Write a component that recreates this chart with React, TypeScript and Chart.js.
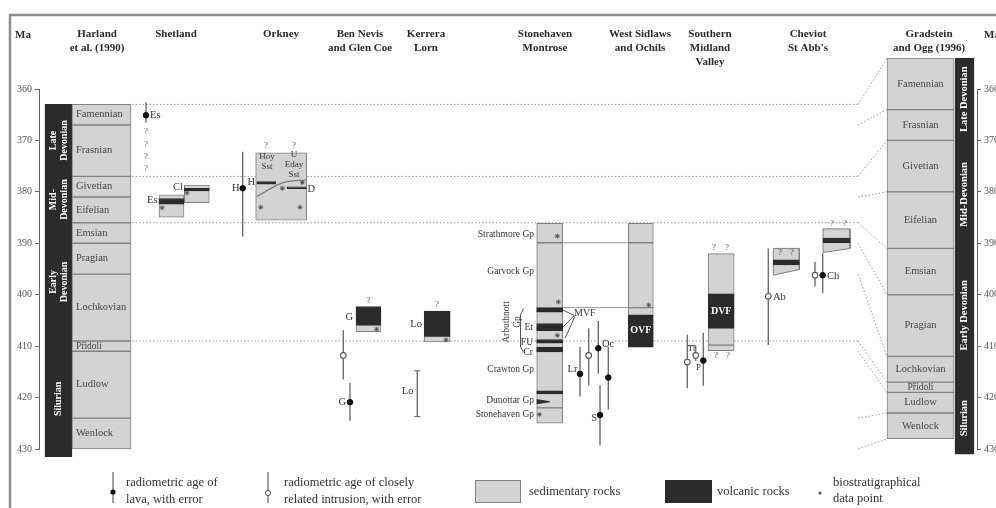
import React, { useEffect, useRef } from "react";
import { Chart, registerables } from "chart.js";

Chart.register(...registerables);

// ---------------- DATA ----------------
const headerLabels: string[][] = [
  ["Harland", "et al. (1990)"],
  ["Shetland"],
  ["Orkney"],
  ["Ben Nevis", "and Glen Coe"],
  ["Kerrera", "Lorn"],
  ["Stonehaven", "Montrose"],
  ["West Sidlaws", "and Ochils"],
  ["Southern", "Midland", "Valley"],
  ["Cheviot", "St Abb's"],
  ["Gradstein", "and Ogg (1996)"],
];
const maTicks = [360, 370, 380, 390, 400, 410, 420, 430];

const stageNames = ["Famennian", "Frasnian", "Givetian", "Eifelian", "Emsian", "Pragian", "Lochkovian", "Přidoli", "Ludlow", "Wenlock"];
const harlandBoundaries = [363, 367, 377, 381, 386, 390, 396, 409, 411, 424, 430];
const harlandEpochNames = ["Late\nDevonian", "Mid-\nDevonian", "Early\nDevonian", "Silurian"];
const harlandEpochRanges = [[363, 377], [377, 386], [386, 409], [409, 431.5]];
const goBoundaries = [354, 364, 370, 380, 391, 400, 412, 417, 419, 423, 428];
const goEpochNames = ["Late Devonian", "Mid-Devonian", "Early Devonian", "Silurian"];
const goEpochRanges = [[354, 370], [370, 391], [391, 417], [417, 431]];
const correlationAges = [363, 377, 386, 409];

// rock units: [kind, top Ma, base Ma]
type Unit = [string, number, number];
const shetlandEsUnits: Unit[] = [["sed", 380.6, 384.9], ["vol", 381.3, 382.4]];
const shetlandClUnits: Unit[] = [["sed", 378.7, 382.1], ["vol", 379.3, 379.8]];
const orkneyUnits: Unit[] = [["sed", 372.4, 385.5]];
const orkneyHoyLava: Unit[] = [["vol", 378.0, 378.5]];
const orkneyDeerness: Unit[] = [["vol", 379.0, 379.4]];
const benNevisUnits: Unit[] = [["vol", 402.3, 405.9], ["sed", 405.9, 407.2]];
const kerreraUnits: Unit[] = [["vol", 403.2, 408.1], ["sed", 408.1, 409.2]];
const stonehavenUnits: Unit[] = [
  ["sed", 386.1, 389.9], ["sed", 389.9, 422.0], ["sed", 422.0, 425.0],
  ["vol", 402.5, 403.4], ["vol", 405.6, 407.0], ["vol", 408.7, 409.4], ["vol", 410.2, 411.1], ["vol", 418.7, 419.3],
];
const sidlawsUnits: Unit[] = [["sed", 386.1, 389.9], ["sed", 389.9, 402.5], ["sed", 402.5, 404.0], ["vol", 404.0, 410.2]];
const smvUnits: Unit[] = [["sed", 392.0, 399.9], ["vol", 399.9, 406.5], ["sed", 406.5, 409.8], ["sed", 409.8, 410.9]];
const abBand: Unit[] = [["vol", 393.2, 394.2]];
const chBand: Unit[] = [["vol", 389.0, 389.9]];
// sloping-based boxes: [top, base left, base right]
const abBoxAges = [391.0, 396.2, 395.1];
const chBoxAges = [387.2, 391.8, 391.0];
const dunottarWedgeAges = [420.4, 420.8, 421.2];
const orkneyContactAges = [380.9, 378.7, 378.0, 377.7];
const groupLinkAges = [389.9, 402.5];

// radiometric ages
const lavaNames = ["Es", "H", "G", "Lr", "Oc", "", "S", "P", "Ch"];
const lavaRanges = [[362.6, 366.5], [372.2, 388.7], [417.1, 424.5], [410.1, 419.8], [405.1, 415.3], [410.1, 422.3], [417.6, 429.3], [407.4, 417.7], [392.0, 399.7]];
const lavaAges = [365.1, 379.3, 420.9, 415.4, 410.4, 416.1, 423.4, 412.8, 396.2];
const intrusionRanges = [[406.9, 416.5], [406.5, 417.6], [407.8, 418.2], [409.9, 412.9], [391.0, 409.8], [393.6, 398.4]];
const intrusionAges = [411.8, 411.8, 413.1, 411.8, 400.3, 396.2];
const rangeOnlyRanges = [[414.8, 423.7]];
const biostratAges = [383.1, 380.2, 379.3, 383.0, 383.0, 378.2, 406.7, 408.8, 388.6, 401.4, 407.9, 423.3, 402.0];

// ---------------- LAYOUT / STYLE ----------------
const SERIF = "'Liberation Serif', 'Times New Roman', serif";
const SED = "#d3d3d3";
const VOL = "#2b2b2b";
const EDGE = "#808080";
const INK = "#333333";
const LINE = "#6e6e6e";

const headerX = [97, 176, 281, 360, 426, 545, 640, 710, 808, 929];
const COL = {
  harlandEpoch: { x: 58.5, w: 27 }, harlandStage: { x: 101.5, w: 59 },
  shetEs: { x: 171.5, w: 25 }, shetCl: { x: 196.8, w: 25 },
  orkney: { x: 281.2, w: 51 }, orkH: { x: 266.3, w: 19 }, orkD: { x: 296.5, w: 19 },
  benNevis: { x: 368.5, w: 25 }, kerrera: { x: 437.2, w: 26 },
  stonehaven: { x: 549.7, w: 26 }, sidlaws: { x: 640.8, w: 25 }, smv: { x: 721.2, w: 26 },
  ab: { x: 786.3, w: 26 }, ch: { x: 836.5, w: 27 },
  goStage: { x: 920.5, w: 67 }, goEpoch: { x: 964.5, w: 19 },
};
const LAVA_X = [146, 242.7, 350, 580, 598.3, 608.3, 600, 703.3, 822.7];
const INTR_X = [343.3, 588.7, 687.3, 695.7, 768.3, 815];
const RANGE_X = [417.3];
const BIO_X = [162, 187, 282.3, 260.7, 300, 302.3, 376.7, 446, 557.3, 558.3, 557.3, 539.3, 648.7];
const CORR_X = [132, 858];
const FAN_X = [858, 887];
const ORK_CONTACT_X = [257, 277, 287, 306];
const LINK_X = [562.7, 628.3];

// ---------------- DATASETS ----------------
const rect = (col: any, ranges: number[][], fill: string, edge: string, order: number) => ({
  type: "bar",
  data: ranges.map((r) => ({ x: col.x, y: [r[0], r[1]] })),
  barThickness: col.w,
  grouped: false,
  backgroundColor: fill,
  borderColor: edge,
  borderWidth: 1,
  borderSkipped: false,
  order,
  clip: false,
});
const units = (col: any, u: Unit[]) => [
  rect(col, u.filter((k) => k[0] === "sed").map((k) => [k[1], k[2]]), SED, EDGE, 20),
  rect(col, u.filter((k) => k[0] === "vol").map((k) => [k[1], k[2]]), VOL, VOL, 15),
];
const poly = (pts: number[][], fill: string, edge: string, order: number) => ({
  type: "line",
  data: pts.map(([x, y]) => ({ x, y })),
  fill: "shape",
  backgroundColor: fill,
  borderColor: edge,
  borderWidth: 1,
  pointRadius: 0,
  tension: 0,
  order,
  clip: false,
});
const seg = (pts: number[][], color: string, width: number, dash: number[], order = 8, tension = 0) => ({
  type: "line",
  data: pts.map(([x, y]) => ({ x, y })),
  borderColor: color,
  borderWidth: width,
  borderDash: dash,
  pointRadius: 0,
  fill: false,
  tension,
  order,
  clip: false,
});
const slopeBox = (col: any, a: number[]) => {
  const l = col.x - col.w / 2, r = col.x + col.w / 2;
  return [[l, a[0]], [r, a[0]], [r, a[2]], [l, a[1]], [l, a[0]]];
};

const harlandStageRanges = stageNames.map((_, i) => [harlandBoundaries[i], harlandBoundaries[i + 1]]);
const goStageRanges = stageNames.map((_, i) => [goBoundaries[i], goBoundaries[i + 1]]);

const datasets: any[] = [
  rect(COL.harlandStage, harlandStageRanges, SED, EDGE, 20),
  rect(COL.harlandEpoch, harlandEpochRanges, VOL, VOL, 20),
  rect(COL.goStage, goStageRanges, SED, EDGE, 20),
  rect(COL.goEpoch, goEpochRanges, VOL, VOL, 20),
  ...units(COL.shetEs, shetlandEsUnits),
  ...units(COL.shetCl, shetlandClUnits),
  ...units(COL.orkney, orkneyUnits),
  ...units(COL.orkH, orkneyHoyLava),
  ...units(COL.orkD, orkneyDeerness),
  ...units(COL.benNevis, benNevisUnits),
  ...units(COL.kerrera, kerreraUnits),
  ...units(COL.stonehaven, stonehavenUnits),
  ...units(COL.sidlaws, sidlawsUnits),
  ...units(COL.smv, smvUnits),
  poly(slopeBox(COL.ab, abBoxAges), SED, EDGE, 22),
  poly(slopeBox(COL.ch, chBoxAges), SED, EDGE, 22),
  ...units(COL.ab, abBand),
  ...units(COL.ch, chBand),
  poly(
    [
      [COL.stonehaven.x - COL.stonehaven.w / 2, dunottarWedgeAges[0]],
      [COL.stonehaven.x - COL.stonehaven.w / 2 + 13, dunottarWedgeAges[1]],
      [COL.stonehaven.x - COL.stonehaven.w / 2, dunottarWedgeAges[2]],
    ],
    VOL, VOL, 14
  ),
  // Orkney Hoy / Eday contact
  seg(ORK_CONTACT_X.map((x, i) => [x, orkneyContactAges[i]]), "#777", 1.3, [], 12, 0.4),
  // correlation dotted lines
  ...correlationAges.map((a) => seg([[CORR_X[0], a], [CORR_X[1], a]], "#9a9a9a", 1, [1.5, 2], 30)),
  ...harlandBoundaries.map((a, i) => seg([[FAN_X[0], a], [FAN_X[1], goBoundaries[i]]], "#9a9a9a", 1, [1.5, 2], 30)),
  // group boundary links Stonehaven -> Sidlaws
  ...groupLinkAges.map((a) => seg([[LINK_X[0], a], [LINK_X[1], a]], "#9a9a9a", 1, [], 30)),
  // MVF leaders
  seg([[574, 404.0], [563, 403.0]], "#555", 1, [], 6),
  seg([[574, 404.1], [563, 406.3]], "#555", 1, [], 6),
  seg([[575, 404.2], [565, 408.5]], "#555", 1, [], 6),
  // Arbuthnott bracket
  seg([[523.5, 402.7], [520.5, 403.9], [520.5, 410.1], [523.5, 411.2]], "#555", 1, [], 6),
  // SMV intrusion connector
  seg([[INTR_X[2], 409.9], [INTR_X[3], 409.9]], LINE, 1.2, [], 6),
  // error bars
  ...lavaRanges.map((r, i) => seg([[LAVA_X[i], r[0]], [LAVA_X[i], r[1]]], LINE, 1.4, [], 5)),
  ...intrusionRanges.map((r, i) => seg([[INTR_X[i], r[0]], [INTR_X[i], r[1]]], LINE, 1.4, [], 5)),
  ...rangeOnlyRanges.map((r, i) => seg([[RANGE_X[i], r[0]], [RANGE_X[i], r[1]]], LINE, 1.4, [], 5)),
  {
    type: "scatter",
    data: rangeOnlyRanges.flatMap((r, i) => [{ x: RANGE_X[i], y: r[0] }, { x: RANGE_X[i], y: r[1] }]),
    pointStyle: "line", pointRadius: 3, borderColor: LINE, borderWidth: 1.2, order: 4, clip: false,
  },
  {
    type: "scatter",
    data: lavaAges.map((a, i) => ({ x: LAVA_X[i], y: a })),
    pointRadius: 2.8, backgroundColor: "#111", borderColor: "#111", borderWidth: 1, order: 2, clip: false,
  },
  {
    type: "scatter",
    data: intrusionAges.map((a, i) => ({ x: INTR_X[i], y: a })),
    pointRadius: 2.8, backgroundColor: "#fff", borderColor: "#555", borderWidth: 1.1, order: 2, clip: false,
  },
  {
    type: "scatter",
    data: biostratAges.map((a, i) => ({ x: BIO_X[i], y: a })),
    pointStyle: "star", pointRadius: 2.4, backgroundColor: "#555", borderColor: "#555", borderWidth: 1, order: 1, clip: false,
  },
];

// ---------------- TEXT NOTES ----------------
type Note = { t: string; x: number; ma: number; align?: string; size?: number; color?: string; bold?: boolean; rot?: boolean };
const notes: Note[] = [];
stageNames.forEach((n, i) =>
  notes.push({ t: n, x: COL.harlandStage.x - COL.harlandStage.w / 2 + 4, ma: (harlandBoundaries[i] + harlandBoundaries[i + 1]) / 2, align: "left", size: i === 7 ? 9.5 : 10.5, color: "#444" })
);
stageNames.forEach((n, i) =>
  notes.push({ t: n, x: COL.goStage.x, ma: (goBoundaries[i] + goBoundaries[i + 1]) / 2, size: i === 7 ? 9.5 : 10.5, color: "#444" })
);
harlandEpochNames.forEach((n, i) =>
  notes.push({ t: n, x: COL.harlandEpoch.x, ma: (harlandEpochRanges[i][0] + harlandEpochRanges[i][1]) / 2, size: 10, color: "#fff", bold: true, rot: true })
);
goEpochNames.forEach((n, i) =>
  notes.push({ t: n, x: COL.goEpoch.x, ma: (goEpochRanges[i][0] + goEpochRanges[i][1]) / 2, size: 10.5, color: "#fff", bold: true, rot: true })
);
const q = (x: number, ma: number) => notes.push({ t: "?", x, ma, size: 9, color: "#555" });
[368.3, 370.9, 373.1, 375.4].forEach((m) => q(146, m));
q(266, 371.1); q(294, 371.1); q(368.3, 401.1); q(437, 402.0);
q(714, 390.8); q(727, 390.8); q(716, 411.9); q(728, 411.9);
q(780, 391.8); q(792, 391.8); q(832, 386.1); q(845, 386.1);
notes.push(
  { t: "Es", x: 150, ma: 365.1, align: "left" },
  { t: "Es", x: 157.5, ma: 381.6, align: "right" },
  { t: "Cl", x: 183, ma: 379.1, align: "right" },
  { t: "H", x: 239.5, ma: 379.3, align: "right" },
  { t: "H", x: 255, ma: 378.1, align: "right" },
  { t: "D", x: 307.5, ma: 379.4, align: "left" },
  { t: "Hoy\nSst", x: 267, ma: 374.2, size: 9 },
  { t: "U\nEday\nSst", x: 294, ma: 374.7, size: 9 },
  { t: "G", x: 353, ma: 404.3, align: "right" },
  { t: "G", x: 346, ma: 420.9, align: "right" },
  { t: "Lo", x: 422, ma: 405.7, align: "right" },
  { t: "Lo", x: 413.5, ma: 418.7, align: "right" },
  { t: "Strathmore Gp", x: 534, ma: 388.2, align: "right", size: 9.5 },
  { t: "Garvock Gp", x: 534, ma: 395.5, align: "right", size: 9.5 },
  { t: "Crawton Gp", x: 534, ma: 414.5, align: "right", size: 9.5 },
  { t: "Dunottar Gp", x: 534, ma: 420.5, align: "right", size: 9.5 },
  { t: "Stonehaven Gp", x: 534, ma: 423.3, align: "right", size: 9.5 },
  { t: "Et", x: 533, ma: 406.3, align: "right", size: 9.5 },
  { t: "FU", x: 533, ma: 409.3, align: "right", size: 9.5 },
  { t: "Cr", x: 533, ma: 411.2, align: "right", size: 9.5 },
  { t: "Arbuthnott\nGp", x: 512, ma: 405.3, size: 9.5, rot: true, color: "#444" },
  { t: "MVF", x: 574, ma: 403.7, align: "left", size: 10 },
  { t: "Lr", x: 577.5, ma: 414.5, align: "right" },
  { t: "Oc", x: 602, ma: 409.6, align: "left" },
  { t: "S", x: 597, ma: 424.0, align: "right" },
  { t: "OVF", x: COL.sidlaws.x, ma: 406.9, size: 10, bold: true, color: "#fff" },
  { t: "DVF", x: COL.smv.x, ma: 403.3, size: 10, bold: true, color: "#fff" },
  { t: "Tt", x: 691.5, ma: 410.6, size: 8.5 },
  { t: "P", x: 698.5, ma: 414.2, size: 9 },
  { t: "Ab", x: 773, ma: 400.4, align: "left" },
  { t: "Ch", x: 827, ma: 396.4, align: "left" }
);

const framePlugin = {
  id: "frame",
  beforeDraw(chart: any) {
    const { ctx } = chart;
    ctx.save();
    ctx.fillStyle = "#fff";
    ctx.fillRect(0, 0, chart.width, chart.height);
    ctx.strokeStyle = "#8c8c8c";
    ctx.lineWidth = 2.5;
    ctx.beginPath();
    ctx.moveTo(10, chart.height);
    ctx.lineTo(10, 15);
    ctx.lineTo(chart.width, 15);
    ctx.stroke();
    ctx.font = `bold 11px ${SERIF}`;
    ctx.fillStyle = "#2a2a2a";
    ctx.textBaseline = "middle";
    ctx.textAlign = "left";
    ctx.fillText("Ma", 15, 35);
    ctx.fillText("Ma", 984, 35);
    ctx.restore();
  },
};

const notesPlugin = {
  id: "notes",
  afterDatasetsDraw(chart: any) {
    const { ctx } = chart;
    const xs = chart.scales.x, ys = chart.scales.y;
    notes.forEach((n) => {
      const px = xs.getPixelForValue(n.x), py = ys.getPixelForValue(n.ma);
      const size = n.size ?? 10.5;
      ctx.save();
      ctx.font = `${n.bold ? "bold " : ""}${size}px ${SERIF}`;
      ctx.fillStyle = n.color ?? INK;
      ctx.textAlign = n.align ?? "center";
      ctx.textBaseline = "middle";
      const lines = n.t.split("\n");
      const lh = size * 1.1;
      if (n.rot) {
        ctx.translate(px, py);
        ctx.rotate(-Math.PI / 2);
        lines.forEach((l, i) => ctx.fillText(l, 0, (i - (lines.length - 1) / 2) * lh));
      } else {
        lines.forEach((l, i) => ctx.fillText(l, px, py + (i - (lines.length - 1) / 2) * lh));
      }
      ctx.restore();
    });
  },
};

const legendPlugin = {
  id: "geoLegend",
  afterDraw(chart: any) {
    const { ctx } = chart;
    ctx.save();
    const vline = (x: number) => {
      ctx.strokeStyle = LINE;
      ctx.lineWidth = 1.3;
      ctx.beginPath();
      ctx.moveTo(x, 472);
      ctx.lineTo(x, 503);
      ctx.stroke();
    };
    vline(113);
    ctx.fillStyle = "#111";
    ctx.beginPath();
    ctx.arc(113, 492, 2.6, 0, Math.PI * 2);
    ctx.fill();
    vline(268);
    ctx.fillStyle = "#fff";
    ctx.strokeStyle = "#555";
    ctx.lineWidth = 1;
    ctx.beginPath();
    ctx.arc(268, 493, 2.6, 0, Math.PI * 2);
    ctx.fill();
    ctx.stroke();
    ctx.fillStyle = SED;
    ctx.fillRect(475, 480, 46, 23);
    ctx.strokeStyle = EDGE;
    ctx.strokeRect(475.5, 480.5, 45, 22);
    ctx.fillStyle = VOL;
    ctx.fillRect(665, 480, 47, 23);
    ctx.fillStyle = "#555";
    ctx.beginPath();
    ctx.arc(820, 493, 1.6, 0, Math.PI * 2);
    ctx.fill();
    ctx.font = `12.5px ${SERIF}`;
    ctx.fillStyle = INK;
    ctx.textBaseline = "middle";
    ctx.textAlign = "left";
    ctx.fillText("radiometric age of", 126, 483);
    ctx.fillText("lava, with error", 126, 500);
    ctx.fillText("radiometric age of closely", 284, 483);
    ctx.fillText("related intrusion, with error", 284, 500);
    ctx.fillText("sedimentary rocks", 529, 492);
    ctx.fillText("volcanic rocks", 717, 492);
    ctx.fillText("biostratigraphical", 833, 483);
    ctx.fillText("data point", 833, 499);
    ctx.restore();
  },
};

const headerPadded = headerLabels.map((h) => [...h, "", "", ""].slice(0, 3));

const yAxisBase = (position: string, width: number) => ({
  type: "linear",
  position,
  reverse: true,
  min: maTicks[0],
  max: maTicks[maTicks.length - 1],
  afterFit: (s: any) => { s.width = width; },
  afterBuildTicks: (s: any) => { s.ticks = maTicks.map((v) => ({ value: v })); },
  grid: { display: true, drawOnChartArea: false, drawTicks: true, tickLength: 4, color: "#666", lineWidth: 1 },
  border: { display: true, color: "#666", width: 1 },
  ticks: { padding: 3, color: "#555", font: { family: SERIF, size: 10 } },
});

export default function App() {
  const ref = useRef<HTMLCanvasElement>(null);
  useEffect(() => {
    document.body.style.margin = "0";
    document.body.style.overflow = "hidden";
    const chart = new Chart(ref.current as HTMLCanvasElement, {
      type: "scatter",
      data: { datasets },
      options: {
        animation: false,
        responsive: true,
        maintainAspectRatio: false,
        events: [],
        layout: { padding: { top: 0, bottom: 59, left: 0, right: 0 } },
        plugins: { legend: { display: false }, tooltip: { enabled: false } },
        scales: {
          x: {
            type: "linear",
            position: "top",
            min: 39,
            max: 977,
            offset: false,
            bounds: "data",
            afterFit: (s: any) => { s.height = 89; },
            afterBuildTicks: (s: any) => { s.ticks = headerX.map((v) => ({ value: v })); },
            grid: { display: false, drawTicks: false },
            border: { display: false },
            ticks: {
              autoSkip: false,
              maxRotation: 0,
              minRotation: 0,
              padding: 20,
              color: "#2a2a2a",
              font: { family: SERIF, size: 11, weight: "bold", lineHeight: 1.25 },
              callback: (_v: any, i: number) => headerPadded[i],
            },
          },
          y: yAxisBase("left", 39),
          y2: yAxisBase("right", 19),
        },
      } as any,
      plugins: [framePlugin, notesPlugin, legendPlugin],
    } as any);
    return () => chart.destroy();
  }, []);
  return (
    <div style={{ position: "relative", width: 996, height: 508 }}>
      <canvas ref={ref} />
    </div>
  );
}
